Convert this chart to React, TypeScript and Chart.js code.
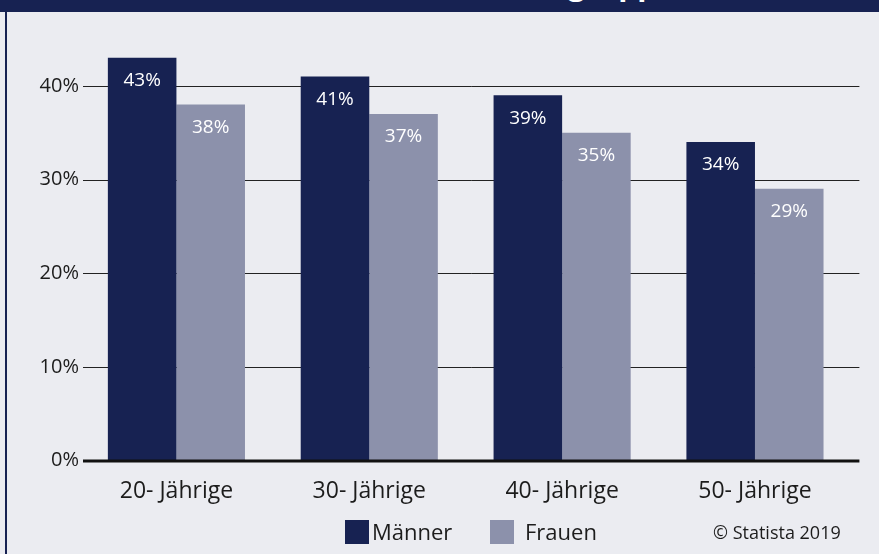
import React, { useEffect, useRef } from "react";
import { Chart, registerables } from "chart.js";

Chart.register(...registerables);

const categories = ["20- Jährige", "30- Jährige", "40- Jährige", "50- Jährige"];
const maenner = [43, 41, 39, 34];
const frauen = [38, 37, 35, 29];
const seriesNames = ["Männer", "Frauen"];
const yTicks = [0, 10, 20, 30, 40];

const NAVY = "#172252";
const GREY = "#8C91AB";
const BG = "#EBECF1";
const TEXT = "#1c1c1c";
const FONT = "'Open Sans', 'Noto Sans', sans-serif";

const gridPlugin = {
  id: "customGrid",
  beforeDatasetsDraw(chart: any) {
    const { ctx, chartArea, scales } = chart;
    const y = scales.y;
    ctx.save();
    ctx.strokeStyle = "#222";
    ctx.lineWidth = 1;
    yTicks.forEach((v) => {
      if (v === 0) return;
      const py = Math.round(y.getPixelForValue(v)) + 0.5;
      ctx.beginPath();
      ctx.moveTo(chartArea.left + 3, py);
      ctx.lineTo(chartArea.right + 8, py);
      ctx.stroke();
    });
    ctx.restore();
  },
  afterDatasetsDraw(chart: any) {
    const { ctx, chartArea, scales } = chart;
    const y = scales.y;
    ctx.save();
    // zero line
    const p0 = y.getPixelForValue(0) + 0.5;
    ctx.strokeStyle = "#111";
    ctx.lineWidth = 3;
    ctx.beginPath();
    ctx.moveTo(chartArea.left + 3, p0);
    ctx.lineTo(chartArea.right + 8, p0);
    ctx.stroke();
    // value labels
    ctx.fillStyle = "#ffffff";
    ctx.font = `19px ${FONT}`;
    ctx.textAlign = "center";
    ctx.textBaseline = "middle";
    chart.data.datasets.forEach((ds: any, di: number) => {
      const meta = chart.getDatasetMeta(di);
      meta.data.forEach((el: any, i: number) => {
        ctx.fillText(`${ds.data[i]}%`, el.x, el.y + 23);
      });
    });
    ctx.restore();
  },
};

export default function App() {
  const ref = useRef<HTMLCanvasElement | null>(null);

  useEffect(() => {
    if (!ref.current) return;
    const chart = new Chart(ref.current, {
      type: "bar",
      data: {
        labels: categories,
        datasets: [
          { label: seriesNames[0], data: maenner, backgroundColor: NAVY },
          { label: seriesNames[1], data: frauen, backgroundColor: GREY },
        ],
      },
      options: {
        animation: false,
        responsive: false,
        events: [],
        layout: { padding: { top: 39, right: 27.6, bottom: 33.5, left: 0 } },
        datasets: { bar: { categoryPercentage: 0.711, barPercentage: 1 } } as any,
        plugins: {
          legend: { display: false },
          tooltip: { enabled: false },
        },
        scales: {
          x: {
            grid: { display: false, drawTicks: false },
            border: { display: false },
            ticks: { color: TEXT, font: { family: FONT, size: 23 }, padding: 17 },
            afterFit: (s: any) => {
              s.height = 60;
            },
          },
          y: {
            min: 0,
            max: 45,
            grid: { display: false, drawTicks: false },
            border: { display: false },
            ticks: {
              stepSize: 10,
              color: TEXT,
              font: { family: FONT, size: 20 },
              padding: 1,
              callback: (v: any) => `${v}%`,
            },
            afterBuildTicks: (s: any) => {
              s.ticks = yTicks.map((v) => ({ value: v }));
            },
            afterFit: (s: any) => {
              s.width = 80;
            },
          },
        },
      },
      plugins: [gridPlugin],
    });
    return () => chart.destroy();
  }, []);

  return (
    <div
      style={{
        position: "absolute",
        left: 0,
        top: 0,
        width: 879,
        height: 554,
        background: BG,
        overflow: "hidden",
        fontFamily: FONT,
      }}
    >
      <div
        style={{
          position: "absolute",
          left: 0,
          top: 0,
          width: 879,
          height: 12,
          background: NAVY,
          overflow: "hidden",
        }}
      >
        <span
          style={{
            position: "absolute",
            right: 205,
            top: -31.5,
            fontSize: 30,
            lineHeight: "30px",
            fontWeight: 700,
            color: "#fff",
            whiteSpace: "nowrap",
          }}
        >
          Anteil nach Altersgruppe
        </span>
      </div>
      <div
        style={{
          position: "absolute",
          left: 5,
          top: 0,
          width: 2,
          height: 554,
          background: NAVY,
        }}
      />
      <canvas ref={ref} width={879} height={554} style={{ position: "absolute", left: 0, top: 0 }} />
      <div style={{ position: "absolute", left: 345, top: 520, width: 24, height: 24, background: NAVY }} />
      <div
        style={{
          position: "absolute",
          left: 372,
          top: 516,
          fontSize: 22,
          lineHeight: "30px",
          color: TEXT,
          whiteSpace: "nowrap",
        }}
      >
        {seriesNames[0]}
      </div>
      <div style={{ position: "absolute", left: 490, top: 520, width: 24, height: 24, background: GREY }} />
      <div
        style={{
          position: "absolute",
          left: 525,
          top: 516,
          fontSize: 22,
          lineHeight: "30px",
          color: TEXT,
          whiteSpace: "nowrap",
        }}
      >
        {seriesNames[1]}
      </div>
      <div
        style={{
          position: "absolute",
          left: 713,
          top: 517,
          fontSize: 18,
          lineHeight: "30px",
          color: TEXT,
          whiteSpace: "nowrap",
        }}
      >
        © Statista 2019
      </div>
    </div>
  );
}
